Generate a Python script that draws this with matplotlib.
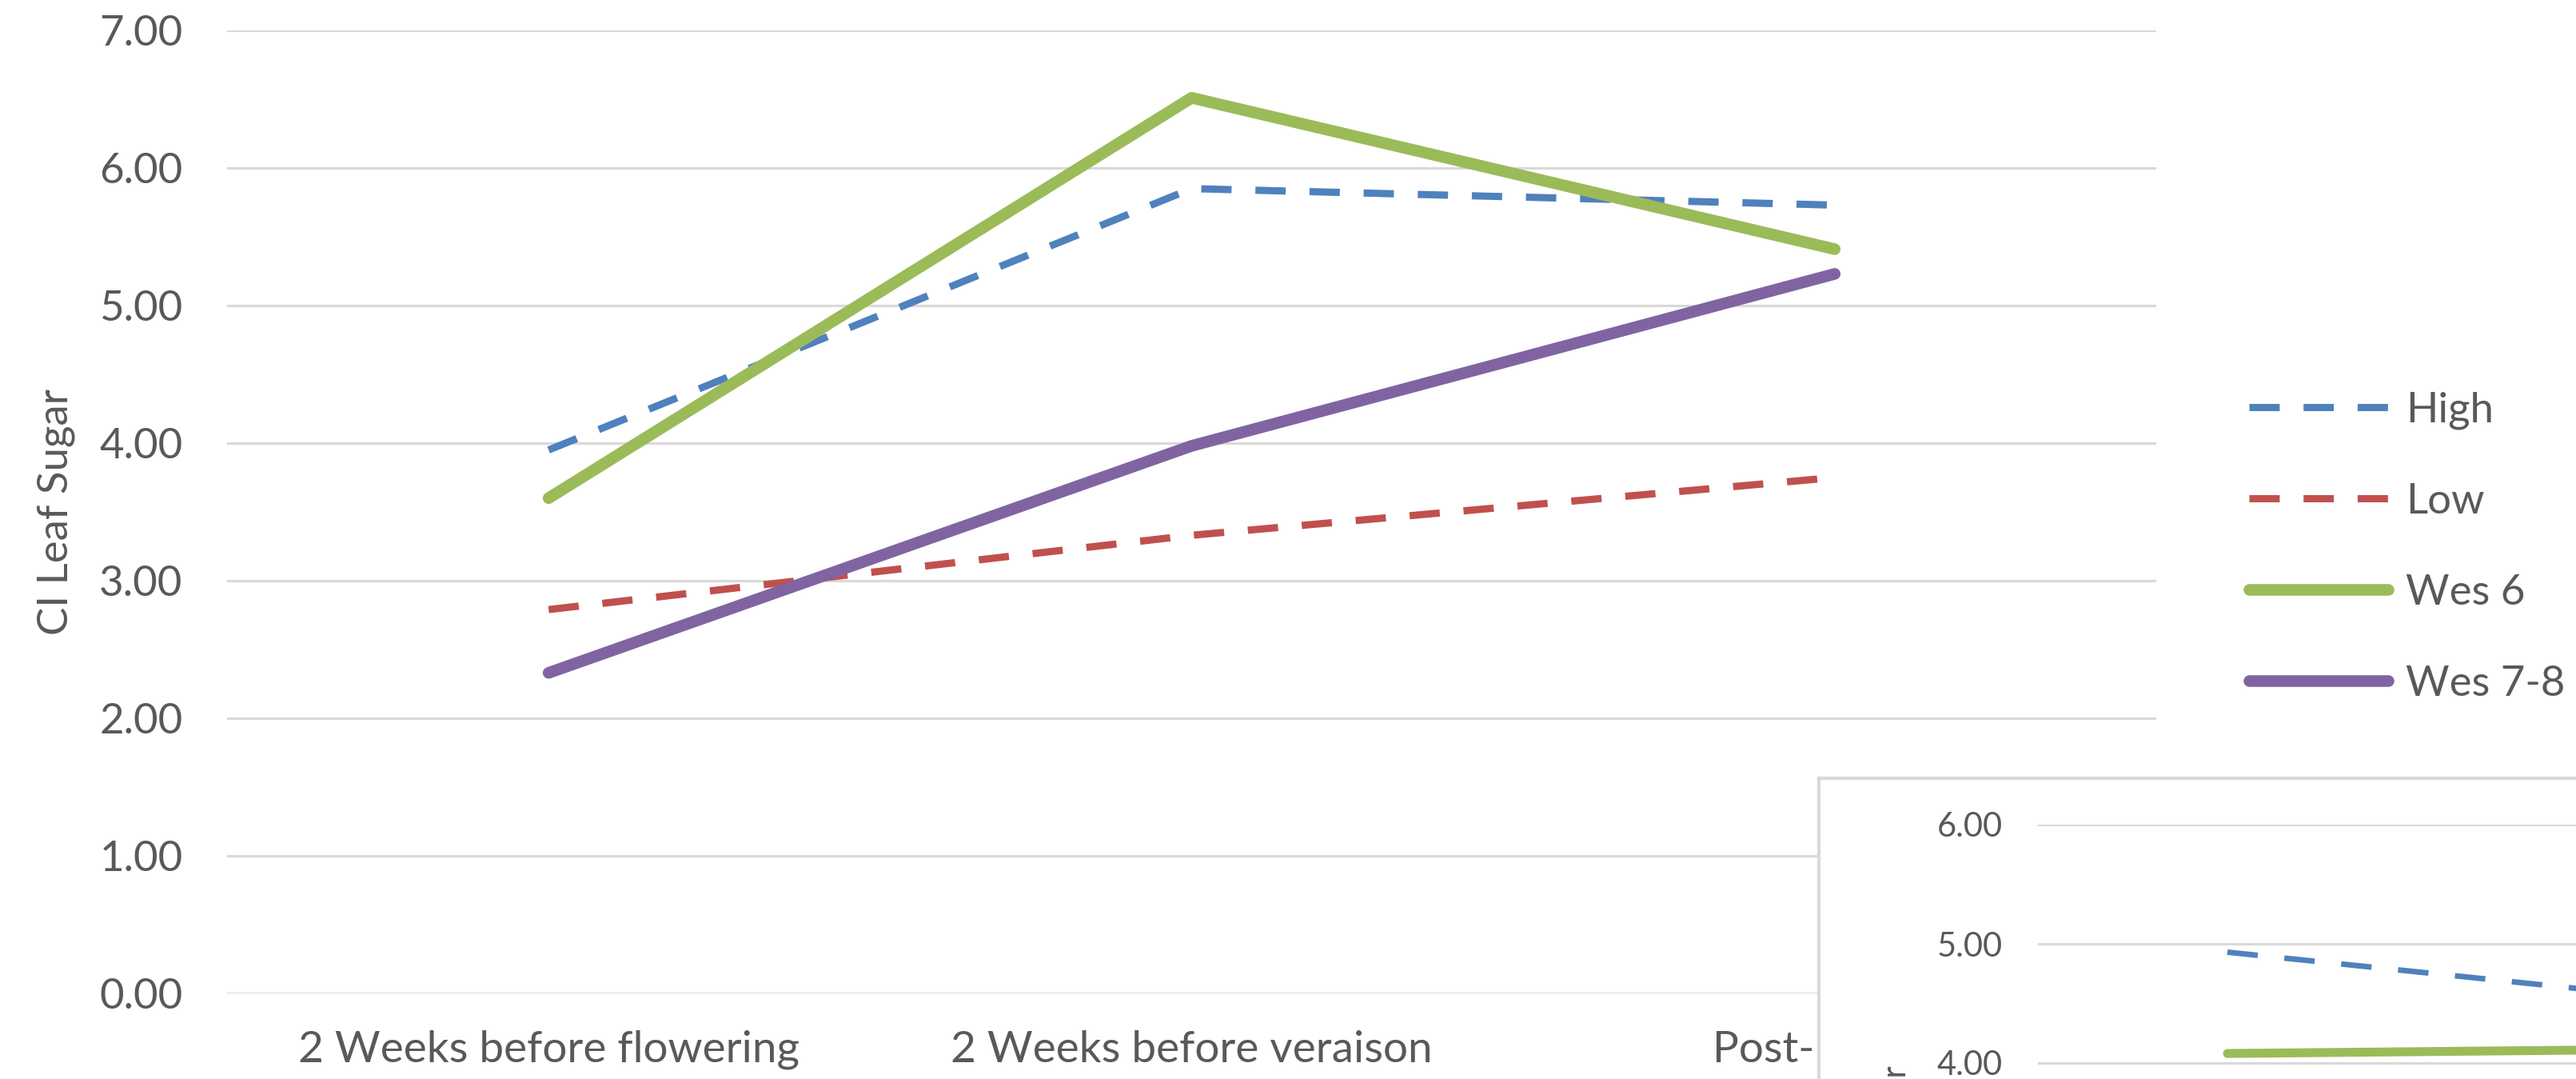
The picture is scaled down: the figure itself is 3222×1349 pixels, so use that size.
import matplotlib.pyplot as plt
from matplotlib.patches import Rectangle

# main chart data
stages = ["2 Weeks before flowering", "2 Weeks before veraison", "Post-harvest"]
high = [3.95, 5.85, 5.73]
low = [2.79, 3.33, 3.75]
wes6 = [3.60, 6.51, 5.41]
wes78 = [2.33, 3.98, 5.23]
yticks = [0, 1, 2, 3, 4, 5, 6, 7]

# second chart, only its top left corner is visible
inset_high = [4.93, 4.60]
inset_wes6 = [4.08, 4.11]
inset_yticks = [3, 4, 5, 6]

BLUE = "#4F81BD"
RED = "#C0504D"
GREEN = "#9BBB59"
PURPLE = "#8064A2"
GRID = "#D9D9D9"
TXT = "#595959"

plt.rcParams['font.family'] = ['Lato', 'DejaVu Sans']

W, H = 3222, 1349
fig = plt.figure(figsize=(W / 100, H / 100), dpi=100)

def fx(px):
    return px / W

def fy(px):
    return 1 - px / H

ax = fig.add_axes([fx(284), fy(1242), fx(2697 - 284), (1242 - 38) / H])
x = range(len(stages))
ax.plot(x, high, color=BLUE, lw=6.5, dashes=(4.2, 3.3), label="High")
ax.plot(x, low, color=RED, lw=6.5, dashes=(4.2, 3.3), label="Low")
ax.plot(x, wes6, color=GREEN, lw=10.5, solid_capstyle='round', label="Wes 6")
ax.plot(x, wes78, color=PURPLE, lw=10.5, solid_capstyle='round', label="Wes 7-8")

ax.set_xlim(-0.5, len(stages) - 0.5)
ax.set_ylim(0, 7)
ax.set_yticks(yticks)
ax.set_yticklabels(["%.2f" % v for v in yticks])
ax.set_xticks(list(x))
ax.set_xticklabels(stages)
ax.grid(axis='y', color=GRID, lw=2.2)
ax.set_axisbelow(True)
for s in ax.spines.values():
    s.set_visible(False)
ax.tick_params(length=0, labelsize=38, colors=TXT)
ax.tick_params(axis='y', pad=40)
ax.tick_params(axis='x', pad=33, labelsize=39.5)
ax.set_ylabel("CI Leaf Sugar", fontsize=38, color=TXT, labelpad=22)

fig.legend(loc='center left', bbox_to_anchor=(fx(2813), fy(684)), frameon=False,
           fontsize=38, labelcolor=TXT, handlelength=3.3, handletextpad=0.42,
           labelspacing=1.27, borderaxespad=0, borderpad=0)

# second chart pasted over the lower right corner
box = Rectangle((fx(2275), -0.2), 0.5, fy(973) + 0.2, transform=fig.transFigure,
                facecolor="white", edgecolor=GRID, lw=3, zorder=5)
fig.add_artist(box)

ax2 = fig.add_axes([fx(2549), fy(1031 + 3 * 149), fx(1422), 3 * 149 / H])
ax2.set_zorder(6)
xi = range(len(inset_high))
ax2.plot(xi, inset_high, color=BLUE, lw=5, dashes=(5.5, 4.8))
ax2.plot(xi, inset_wes6, color=GREEN, lw=8, solid_capstyle='round')
ax2.set_xlim(-0.5, 2.5)
ax2.set_ylim(3, 6)
ax2.set_yticks(inset_yticks)
ax2.set_yticklabels(["%.2f" % v for v in inset_yticks])
ax2.set_xticks([])
ax2.grid(axis='y', color=GRID, lw=2.2)
ax2.set_axisbelow(True)
for s in ax2.spines.values():
    s.set_visible(False)
ax2.tick_params(length=0, labelsize=30, colors=TXT, pad=32)
fig.text(fx(2372), fy(1332), "CI Leaf Sugar", rotation=90, ha='center', va='top',
         fontsize=30, color=TXT, zorder=7)

fig.savefig("out.png", dpi=100)
